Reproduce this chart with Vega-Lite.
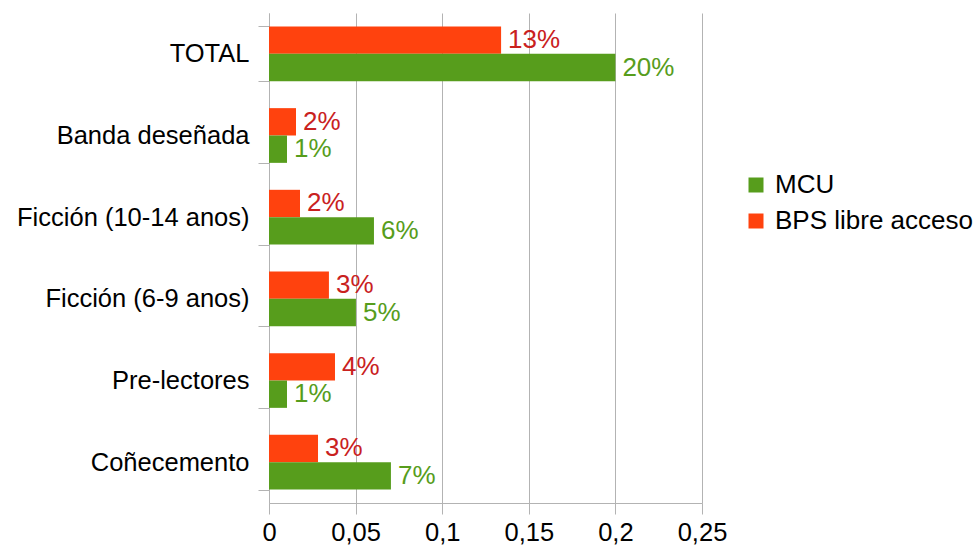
{
  "$schema": "https://vega.github.io/schema/vega-lite/v6.json",
  "autosize": {"type": "none"},
  "width": 433,
  "height": 490,
  "padding": {"left": 269, "top": 13, "right": 277, "bottom": 46},
  "background": "white",
  "config": {
    "font": "Liberation Sans",
    "view": {"stroke": null},
    "axis": {"gridColor": "#b3b3b3", "domainColor": "#b3b3b3", "tickColor": "#b3b3b3", "labelColor": "#000000", "labelFontSize": 25.5, "labelFont": "Liberation Sans", "labelLimit": 400}
  },
  "data": {
    "values": [
      {"cat": "TOTAL", "series": "BPS libre acceso", "value": 0.134, "label": "13%"},
      {"cat": "TOTAL", "series": "MCU", "value": 0.2, "label": "20%"},
      {"cat": "Banda deseñada", "series": "BPS libre acceso", "value": 0.0156, "label": "2%"},
      {"cat": "Banda deseñada", "series": "MCU", "value": 0.0104, "label": "1%"},
      {"cat": "Ficción (10-14 anos)", "series": "BPS libre acceso", "value": 0.0179, "label": "2%"},
      {"cat": "Ficción (10-14 anos)", "series": "MCU", "value": 0.0606, "label": "6%"},
      {"cat": "Ficción (6-9 anos)", "series": "BPS libre acceso", "value": 0.0346, "label": "3%"},
      {"cat": "Ficción (6-9 anos)", "series": "MCU", "value": 0.0502, "label": "5%"},
      {"cat": "Pre-lectores", "series": "BPS libre acceso", "value": 0.0381, "label": "4%"},
      {"cat": "Pre-lectores", "series": "MCU", "value": 0.0104, "label": "1%"},
      {"cat": "Coñecemento", "series": "BPS libre acceso", "value": 0.0283, "label": "3%"},
      {"cat": "Coñecemento", "series": "MCU", "value": 0.0704, "label": "7%"}
    ]
  },
  "encoding": {
    "y": {
      "field": "cat", "type": "nominal",
      "sort": ["TOTAL", "Banda deseñada", "Ficción (10-14 anos)", "Ficción (6-9 anos)", "Pre-lectores", "Coñecemento"],
      "scale": {"paddingInner": 0.33, "paddingOuter": 0.165},
      "axis": {"title": null, "tickBand": "extent", "tickSize": 11, "labelPadding": 9, "grid": false}
    },
    "yOffset": {"field": "series", "type": "nominal", "sort": ["BPS libre acceso", "MCU"]},
    "x": {
      "field": "value", "type": "quantitative",
      "scale": {"domain": [0, 0.25], "nice": false},
      "axis": {"title": null, "values": [0, 0.05, 0.1, 0.15, 0.2, 0.25], "labelExpr": "replace(toString(datum.value), '.', ',')", "tickSize": 11, "labelPadding": 6, "grid": true, "labelFlush": false}
    }
  },
  "layer": [
    {
      "mark": {"type": "bar"},
      "encoding": {
        "color": {
          "field": "series", "type": "nominal",
          "scale": {"domain": ["MCU", "BPS libre acceso"], "range": ["#579d1c", "#ff420e"]},
          "legend": {"title": null, "orient": "none", "legendX": 474, "legendY": 159, "symbolType": "square", "symbolSize": 225, "symbolStrokeWidth": 0, "labelFontSize": 26, "labelFont": "Liberation Sans", "labelColor": "#000000", "labelOffset": 6, "rowPadding": 10, "padding": 0, "labelLimit": 400}
        }
      }
    },
    {
      "mark": {"type": "text", "align": "left", "baseline": "middle", "dx": 7, "fontSize": 26, "font": "Liberation Sans"},
      "encoding": {
        "text": {"field": "label"},
        "color": {
          "field": "series", "type": "nominal",
          "scale": {"domain": ["MCU", "BPS libre acceso"], "range": ["#579d1c", "#c9211e"]},
          "legend": null
        }
      }
    }
  ],
  "resolve": {"scale": {"color": "independent"}}
}
